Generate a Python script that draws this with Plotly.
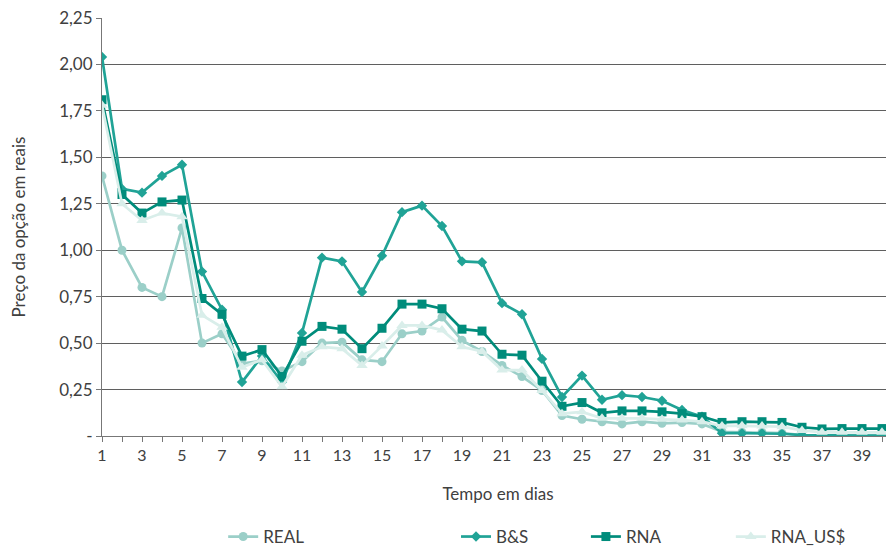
import plotly.graph_objects as go

days = list(range(1, 42))
tick_labels = [str(d) if d % 2 == 1 else "" for d in range(1, 41)]
y_ticks = [0, 0.25, 0.5, 0.75, 1.0, 1.25, 1.5, 1.75, 2.0, 2.25]
y_tick_labels = ["-", "0,25", "0,50", "0,75", "1,00", "1,25", "1,50", "1,75", "2,00", "2,25"]

real = [1.40, 1.00, 0.80, 0.75, 1.12, 0.50, 0.55, 0.39, 0.405, 0.35,
        0.40, 0.50, 0.505, 0.41, 0.40, 0.55, 0.565, 0.64, 0.515, 0.455,
        0.38, 0.32, 0.245, 0.11, 0.09, 0.077, 0.065, 0.077, 0.068, 0.072,
        0.065, 0.023, 0.02, 0.02, 0.015, 0.005, 0.003, 0.002, 0.002, 0.002, 0.002]
bs = [2.04, 1.33, 1.31, 1.40, 1.46, 0.885, 0.68, 0.29, 0.43, 0.29,
      0.555, 0.96, 0.94, 0.775, 0.97, 1.205, 1.24, 1.13, 0.94, 0.935,
      0.715, 0.655, 0.415, 0.21, 0.325, 0.195, 0.22, 0.21, 0.19, 0.14,
      0.104, 0.015, 0.015, 0.015, 0.012, 0.005, 0.003, 0.002, 0.002, 0.002, 0.002]
rna = [1.81, 1.30, 1.20, 1.26, 1.27, 0.74, 0.655, 0.43, 0.465, 0.32,
       0.51, 0.59, 0.575, 0.47, 0.58, 0.71, 0.71, 0.685, 0.575, 0.565,
       0.44, 0.435, 0.295, 0.16, 0.18, 0.125, 0.135, 0.135, 0.13, 0.12,
       0.104, 0.073, 0.077, 0.077, 0.073, 0.047, 0.038, 0.04, 0.04, 0.04, 0.04]
rna_us = [1.78, 1.25, 1.16, 1.20, 1.18, 0.65, 0.585, 0.37, 0.41, 0.265,
          0.435, 0.48, 0.47, 0.38, 0.485, 0.595, 0.595, 0.57, 0.48, 0.455,
          0.355, 0.355, 0.245, 0.12, 0.13, 0.095, 0.095, 0.095, 0.09, 0.086,
          0.077, 0.054, 0.055, 0.054, 0.05, 0.03, 0.02, 0.02, 0.02, 0.02, 0.02]

series = [
    ("REAL", real, "#9bcfc8", "circle", 9, "legend"),
    ("B&S", bs, "#20a396", "diamond", 8, "legend2"),
    ("RNA", rna, "#008c7b", "square", 9, "legend3"),
    ("RNA_US$", rna_us, "#d9eeea", "triangle-up", 10, "legend4"),
]

fig = go.Figure()
for name, vals, col, sym, sz, lg in series:
    fig.add_trace(go.Scatter(
        x=days, y=vals, name=name, mode="lines+markers",
        line=dict(color=col, width=2.7),
        marker=dict(symbol=sym, size=sz, color=col),
        legend=lg, showlegend=True, cliponaxis=True,
    ))

font_family = "Lato, 'Noto Sans', sans-serif"
leg_common = dict(orientation="h", yanchor="middle", y=-0.2416, xanchor="left",
                  font=dict(size=17, color="#404040", family=font_family),
                  bgcolor="rgba(0,0,0,0)", visible=True)

fig.update_layout(
    width=886, height=539,
    margin=dict(l=94, r=0, t=10, b=111, autoexpand=False),
    showlegend=True,
    plot_bgcolor="white", paper_bgcolor="white",
    font=dict(family=font_family, color="#404040", size=17),
    legend=dict(x=0.153, **leg_common),
    legend2=dict(x=0.447, **leg_common),
    legend3=dict(x=0.611, **leg_common),
    legend4=dict(x=0.794, **leg_common),
    xaxis=dict(
        range=[1, 40.6], tickmode="array", tickvals=list(range(1, 41)), ticktext=tick_labels,
        showgrid=False, zeroline=False, showline=True, linecolor="#777777", linewidth=1,
        ticks="outside", ticklen=5, tickcolor="#777777", automargin=False,
        tickfont=dict(size=16, color="#404040"),
        title=dict(text="Tempo em dias", font=dict(size=17, color="#404040"), standoff=24),
    ),
    yaxis=dict(
        range=[0, 2.25], tickmode="array", tickvals=y_ticks, ticktext=y_tick_labels,
        showgrid=True, gridcolor="#5f5f5f", gridwidth=1.2, zeroline=False,
        showline=True, linecolor="#777777", linewidth=1,
        ticks="outside", ticklen=5, tickcolor="#777777", automargin=False,
        ticklabeloverflow="allow",
        tickfont=dict(size=17, color="#404040"),
        title=dict(text="Preço da opção em reais", font=dict(size=17, color="#404040"), standoff=30),
    ),
)

fig.write_html("out.html")
